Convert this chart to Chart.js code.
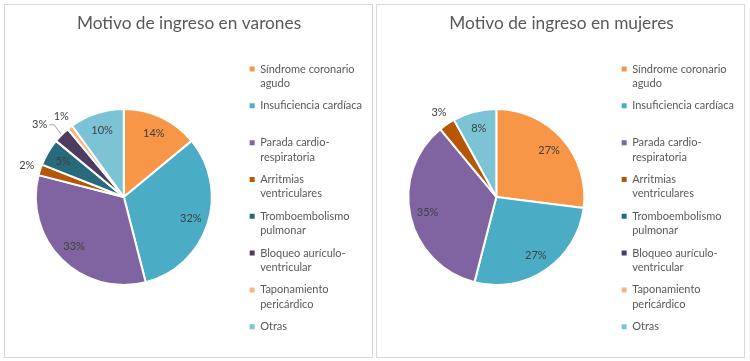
<!DOCTYPE html>
<html>
<head>
<meta charset="utf-8">
<script src="https://cdn.jsdelivr.net/npm/chart.js@4"></script>
<style>
  body { margin: 0; background: #fff; }
  .panel { position: absolute; top: 4px; width: 369px; height: 354px; border: 1px solid #d9d9d9; box-sizing: border-box; }
  .panel canvas { position: absolute; left: 0; top: 0; }
</style>
</head>
<body>
<div class="panel" style="left:4px"><canvas id="varones" width="367" height="352"></canvas></div>
<div class="panel" style="left:376px"><canvas id="mujeres" width="367" height="352"></canvas></div>
<script>
// legend text, split into the lines shown in the original
const categories = [
  ['Síndrome coronario', 'agudo'],
  ['Insuficiencia cardíaca', ''],
  ['Parada cardio-', 'respiratoria'],
  ['Arritmias', 'ventriculares'],
  ['Tromboembolismo', 'pulmonar'],
  ['Bloqueo aurículo-', 'ventricular'],
  ['Taponamiento', 'pericárdico'],
  'Otras'
];
const varones = [14, 32, 33, 2, 5, 3, 1, 10];
const mujeres = [27, 27, 35, 3, 0, 0, 0, 8];
const colors = ['#F79646', '#4BACC6', '#8064A2', '#B65708', '#276A7C', '#4D3B62', '#F9B47C', '#7CC3D6'];

// percentage labels like Excel's "best fit"
const pctLabels = {
  id: 'pctLabels',
  afterDatasetsDraw(chart) {
    const ctx = chart.ctx;
    const data = chart.data.datasets[0].data;
    const total = data.reduce((a, b) => a + b, 0);
    const arcs = chart.getDatasetMeta(0).data;
    ctx.save();
    ctx.font = '11px Lato';
    ctx.fillStyle = '#404040';
    ctx.textAlign = 'center';
    ctx.textBaseline = 'middle';
    const placed = [];
    const hits = (lx, ly, w) => placed.some(p => Math.abs(p.x - lx) < (p.w + w) / 2 + 5 && Math.abs(p.y - ly) < 12);
    for (let i = arcs.length - 1; i >= 0; i--) {
      if (!data[i]) continue;
      const {x, y, startAngle, endAngle, outerRadius} =
        arcs[i].getProps(['x', 'y', 'startAngle', 'endAngle', 'outerRadius'], true);
      const mid = (startAngle + endAngle) / 2;
      const text = Math.round(data[i] / total * 100) + '%';
      const w = ctx.measureText(text).width;
      const inside = data[i] / total >= 0.05;
      const d = inside ? outerRadius * 0.8 : outerRadius + 14;
      let lx = x + Math.cos(mid) * d, ly = y + Math.sin(mid) * d;
      const side = Math.cos(mid) < 0 ? -1 : 1;
      let moved = false;
      if (!inside) {
        while (hits(lx, ly, w)) {
          lx += side * 2;
          moved = true;
        }
      }
      if (moved) {
        const sx = lx - side * (w / 2 + 2);
        ctx.strokeStyle = '#a6a6a6';
        ctx.lineWidth = 1;
        ctx.beginPath();
        ctx.moveTo(sx, ly);
        ctx.lineTo(sx - side * 5, ly);
        ctx.lineTo(x + Math.cos(mid) * (outerRadius + 1), y + Math.sin(mid) * (outerRadius + 1));
        ctx.stroke();
      }
      ctx.fillText(text, lx, ly);
      placed.push({x: lx, y: ly, w});
    }
    ctx.restore();
  }
};

function makeChart(id, title, values, padLeft, legendWidth) {
  return new Chart(document.getElementById(id), {
    type: 'pie',
    data: {
      labels: categories,
      datasets: [{
        data: values,
        backgroundColor: colors,
        borderColor: '#fff',
        borderWidth: 2,
        radius: 88
      }]
    },
    options: {
      responsive: false,
      animation: false,
      layout: { padding: { left: padLeft, right: 0, top: 0, bottom: 0 } },
      plugins: {
        title: {
          display: true,
          text: title,
          color: '#595959',
          font: { family: 'Lato', size: 17.3, weight: 'normal' },
          padding: { top: 8.5, bottom: 2.7 }
        },
        legend: {
          position: 'right',
          align: 'start',
          maxWidth: legendWidth,
          // empty legend title only reserves the space above the first entry
          title: { display: true, text: '', font: { size: 10, lineHeight: 1 }, padding: { top: 40.5, bottom: 0 } },
          labels: {
            boxWidth: 5,
            boxHeight: 5,
            padding: 8,
            color: '#595959',
            font: { family: 'Lato', size: 11, lineHeight: 1.31 },
            generateLabels: chart => Chart.overrides.pie.plugins.legend.labels.generateLabels(chart)
              .map(l => ({ ...l, lineWidth: 0 }))
          }
        },
        tooltip: { enabled: false }
      }
    },
    plugins: [pctLabels]
  });
}

makeChart('varones', 'Motivo de ingreso en varones', varones, 1, 132);
makeChart('mujeres', 'Motivo de ingreso en mujeres', mujeres, 2, 134);
</script>
</body>
</html>
